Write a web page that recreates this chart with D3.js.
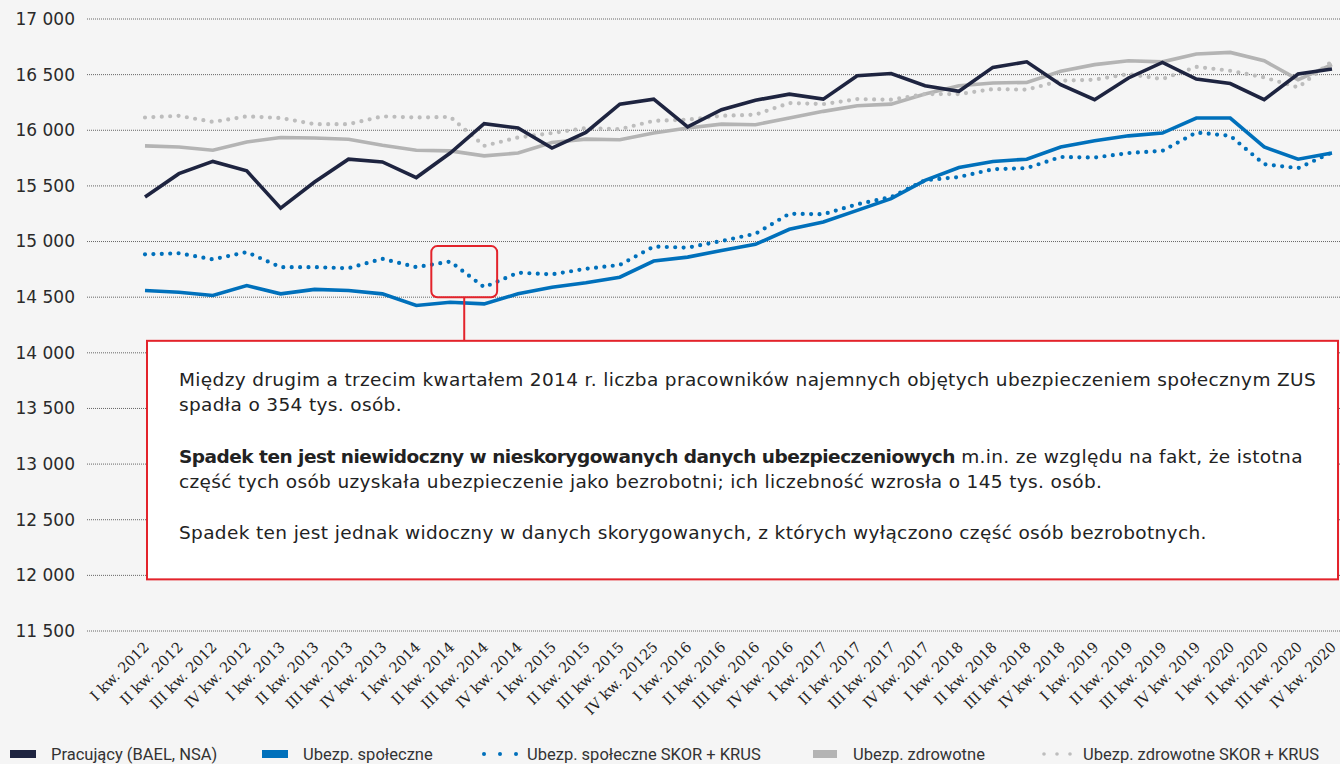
<!DOCTYPE html>
<html>
<head>
<meta charset="utf-8">
<script src="https://cdn.jsdelivr.net/npm/d3@7"></script>
<style>
  body { margin: 0; background: #f5f5f5; }
  svg { display: block; }
</style>
</head>
<body>
<div id="chart"></div>
<script>
const categories = [
  "I kw. 2012", "II kw. 2012", "III kw. 2012", "IV kw. 2012",
  "I kw. 2013", "II kw. 2013", "III kw. 2013", "IV kw. 2013",
  "I kw. 2014", "II kw. 2014", "III kw. 2014", "IV kw. 2014",
  "I kw. 2015", "II kw. 2015", "III kw. 2015", "IV kw. 20125",
  "I kw. 2016", "II kw. 2016", "III kw. 2016", "IV kw. 2016",
  "I kw. 2017", "II kw. 2017", "III kw. 2017", "IV kw. 2017",
  "I kw. 2018", "II kw. 2018", "III kw. 2018", "IV kw. 2018",
  "I kw. 2019", "II kw. 2019", "III kw. 2019", "IV kw. 2019",
  "I kw. 2020", "II kw. 2020", "III kw. 2020", "IV kw. 2020"
];

const pracujacy = [15400, 15610, 15720, 15635, 15300, 15535, 15740, 15715, 15575, 15795, 16060, 16020,
  15840, 15980, 16235, 16280, 16030, 16185, 16270, 16325, 16280, 16490, 16510, 16400,
  16350, 16565, 16615, 16410, 16275, 16470, 16610, 16460, 16420, 16275, 16505, 16550];

const ubezpSpoleczne = [14560, 14545, 14515, 14605, 14530, 14570, 14560, 14530, 14425, 14455, 14440, 14530,
  14590, 14630, 14680, 14825, 14860, 14920, 14975, 15110, 15175, 15280, 15385, 15550,
  15665, 15720, 15740, 15850, 15905, 15950, 15975, 16110, 16110, 15850, 15740, 15795];

const ubezpSpoleczneSkor = [14885, 14895, 14840, 14905, 14770, 14770, 14760, 14845, 14770, 14820, 14590, 14720,
  14705, 14755, 14790, 14955, 14945, 15005, 15070, 15250, 15245, 15335, 15400, 15550,
  15580, 15650, 15660, 15760, 15755, 15795, 15815, 15980, 15950, 15695, 15660, 15800];

const ubezpZdrowotne = [15860, 15850, 15820, 15895, 15935, 15930, 15920, 15865, 15820, 15815, 15770, 15795,
  15890, 15920, 15915, 15975, 16020, 16055, 16050, 16110, 16170, 16220, 16235, 16325,
  16400, 16425, 16430, 16530, 16590, 16625, 16615, 16685, 16700, 16625, 16455, 16590];

const ubezpZdrowotneSkor = [16115, 16130, 16075, 16125, 16110, 16055, 16055, 16125, 16115, 16120, 15860, 15935,
  15975, 16020, 16010, 16085, 16095, 16130, 16140, 16245, 16235, 16280, 16275, 16325,
  16325, 16370, 16365, 16445, 16455, 16505, 16460, 16570, 16535, 16475, 16385, 16620];

const yTicks = [11500, 12000, 12500, 13000, 13500, 14000, 14500, 15000, 15500, 16000, 16500, 17000];

const seriesNames = [
  "Pracujący (BAEL, NSA)", "Ubezp. społeczne", "Ubezp. społeczne SKOR + KRUS",
  "Ubezp. zdrowotne", "Ubezp. zdrowotne SKOR + KRUS"
];

const width = 1340, height = 764;
const navy = "#1e2440", blue = "#0070bb", grey = "#b4b4b4", greyDot = "#bdbdbd", red = "#e3232b";

const svg = d3.select("#chart").append("svg")
  .attr("width", width)
  .attr("height", height)
  .style("background", "#f5f5f5");

const x = d3.scalePoint().domain(categories).range([145, 1332]);
const y = d3.scaleLinear().domain([11500, 17000]).range([631, 19]);

// gridlines + y labels
svg.append("g")
  .selectAll("line")
  .data(yTicks)
  .join("line")
  .attr("x1", 87).attr("x2", width)
  .attr("y1", d => y(d)).attr("y2", d => y(d))
  .attr("stroke", "#666")
  .attr("stroke-width", 1)
  .attr("stroke-dasharray", "1 1");

const fmt = d => d3.format(",")(d).replace(",", " ");
svg.append("g")
  .selectAll("text")
  .data(yTicks)
  .join("text")
  .attr("x", 75)
  .attr("y", d => y(d))
  .attr("dy", "0.35em")
  .attr("text-anchor", "end")
  .attr("font-family", "'DejaVu Sans', sans-serif")
  .attr("font-size", 17)
  .attr("fill", "#2a2a2a")
  .text(fmt);

// x labels
svg.append("g")
  .selectAll("text")
  .data(categories)
  .join("text")
  .attr("transform", d => `translate(${x(d) + 5},${648}) rotate(-45)`)
  .attr("text-anchor", "end")
  .attr("font-family", "'DejaVu Serif', serif")
  .attr("font-size", 14.5)
  .attr("fill", "#222")
  .text(d => d);

const line = d3.line().x((d, i) => x(categories[i])).y(d => y(d));

function drawSeries(values, color, dotted) {
  const p = svg.append("path")
    .datum(values)
    .attr("d", line)
    .attr("fill", "none")
    .attr("stroke", color);
  if (dotted) {
    p.attr("stroke-width", 4.2)
      .attr("stroke-linecap", "round")
      .attr("stroke-dasharray", "0 8.4");
  } else {
    p.attr("stroke-width", 3.6)
      .attr("stroke-linejoin", "miter");
  }
}

drawSeries(ubezpZdrowotne, grey, false);
drawSeries(ubezpZdrowotneSkor, greyDot, true);
drawSeries(pracujacy, navy, false);
drawSeries(ubezpSpoleczne, blue, false);
drawSeries(ubezpSpoleczneSkor, blue, true);

// annotation: small box around the drop, connector, text box
const smallLeft = x(categories[8]) + 15, smallRight = x(categories[10]) + 13;
const smallTop = y(14950) - 1, smallBottom = y(14500);
const ann = svg.append("g");
ann.append("rect")
  .attr("x", smallLeft).attr("y", smallTop)
  .attr("width", smallRight - smallLeft).attr("height", smallBottom - smallTop)
  .attr("rx", 6)
  .attr("fill", "none")
  .attr("stroke", red)
  .attr("stroke-width", 2);

const boxTop = y(14000) - 12, boxBottom = y(12000) + 4;
ann.append("line")
  .attr("x1", (smallLeft + smallRight) / 2).attr("x2", (smallLeft + smallRight) / 2)
  .attr("y1", smallBottom).attr("y2", boxTop)
  .attr("stroke", red).attr("stroke-width", 2);

ann.append("rect")
  .attr("x", 147).attr("y", boxTop)
  .attr("width", 1191).attr("height", boxBottom - boxTop)
  .attr("fill", "#ffffff")
  .attr("stroke", red)
  .attr("stroke-width", 2);

const noteLines = [
  [{ t: "Między drugim a trzecim kwartałem 2014 r. liczba pracowników najemnych objętych ubezpieczeniem społecznym ZUS" }],
  [{ t: "spadła o 354 tys. osób." }],
  [{ t: "Spadek ten jest niewidoczny w nieskorygowanych danych ubezpieczeniowych", b: true },
   { t: " m.in. ze względu na fakt, że istotna" }],
  [{ t: "część tych osób uzyskała ubezpieczenie jako bezrobotni; ich liczebność wzrosła o 145 tys. osób." }],
  [{ t: "Spadek ten jest jednak widoczny w danych skorygowanych, z których wyłączono część osób bezrobotnych." }]
];
const noteBaselines = [386, 411, 463, 488, 539];

noteLines.forEach((parts, i) => {
  const t = ann.append("text")
    .attr("x", 179)
    .attr("y", noteBaselines[i])
    .attr("font-family", "'DejaVu Sans', sans-serif")
    .attr("font-size", 18.5)
    .attr("fill", "#222");
  parts.forEach(p => {
    t.append("tspan")
      .attr("font-weight", p.b ? 700 : 400)
      .attr("letter-spacing", p.b ? -0.5 : 0.35)
      .style("white-space", "pre")
      .text(p.t);
  });
});

// legend
const legendX = [10, 262, 480, 813, 1040];
const legendColors = [navy, blue, blue, grey, greyDot];
const legendDotted = [false, false, true, false, true];
const lg = svg.append("g");
seriesNames.forEach((name, i) => {
  const g = lg.append("g").attr("transform", `translate(${legendX[i]},754)`);
  if (legendDotted[i]) {
    g.selectAll("circle")
      .data([0, 1, 2])
      .join("circle")
      .attr("cx", d => 4 + d * (i === 2 ? 16 : 13))
      .attr("cy", 0)
      .attr("r", i === 2 ? 2 : 1.8)
      .attr("fill", legendColors[i]);
  } else {
    g.append("rect")
      .attr("x", 0).attr("y", -4)
      .attr("width", i === 3 ? 24 : 26).attr("height", 8)
      .attr("fill", legendColors[i]);
  }
  g.append("text")
    .attr("x", i === 2 ? 47 : (i === 4 ? 43 : (i === 3 ? 40 : 41)))
    .attr("y", 0)
    .attr("dy", "0.35em")
    .attr("font-family", "Roboto, sans-serif")
    .attr("font-size", 16.5)
    .attr("fill", "#333")
    .text(name);
});
</script>
</body>
</html>
